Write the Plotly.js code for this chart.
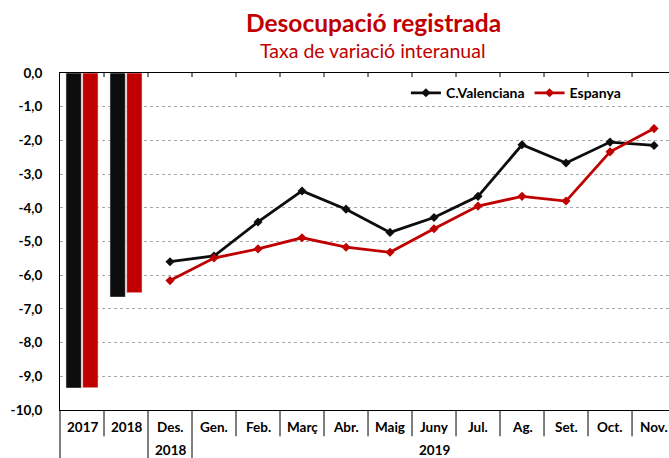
<!DOCTYPE html>
<html>
<head>
<meta charset="utf-8">
<script src="https://cdn.plot.ly/plotly-3.0.1.min.js"></script>
<style>html,body{margin:0;padding:0;background:#fff;}#chart{width:669px;height:458px;}</style>
</head>
<body>
<div id="chart"></div>
<script>
// ---- data ----
var categories = ['2017','2018','Des.','Gen.','Feb.','Març','Abr.','Maig','Juny','Jul.','Ag.','Set.','Oct.','Nov.'];
var yearCats = ['2017','2018'];
var barCV = [-9.35, -6.65];
var barES = [-9.34, -6.52];
var months = ['Des.','Gen.','Feb.','Març','Abr.','Maig','Juny','Jul.','Ag.','Set.','Oct.','Nov.'];
var lineCV = [-5.60, -5.43, -4.42, -3.50, -4.04, -4.73, -4.29, -3.66, -2.13, -2.67, -2.05, -2.15];
var lineES = [-6.16, -5.49, -5.22, -4.89, -5.17, -5.32, -4.62, -3.95, -3.66, -3.80, -2.34, -1.65];
var groupLabels = ['2018', '2019'];
var groupFirst = ['Des.', 'Gen.'];
var groupLast = ['Des.', 'Nov.'];
var yTickVals = [0,-1,-2,-3,-4,-5,-6,-7,-8,-9,-10];
var yTickText = ['0,0','-1,0','-2,0','-3,0','-4,0','-5,0','-6,0','-7,0','-8,0','-9,0','-10,0'];
var seriesNames = ['C.Valenciana', 'Espanya'];
var titleText = 'Desocupació registrada';
var subtitleText = 'Taxa de variació interanual';

// ---- style ----
var BLACK = '#0d0d0d', RED = '#c00000';
var FONT = 'Lato, "Liberation Sans", sans-serif';

var traces = [
  {type:'bar', x:yearCats, y:barCV, name:seriesNames[0], showlegend:false,
   marker:{color:BLACK, line:{color:'#ffffff', width:0.5}}},
  {type:'bar', x:yearCats, y:barES, name:seriesNames[1], showlegend:false,
   marker:{color:RED, line:{color:'#ffffff', width:0.5}}},
  {type:'scatter', mode:'lines+markers', x:months, y:lineCV, name:seriesNames[0],
   line:{color:BLACK, width:2.8}, marker:{symbol:'diamond', size:7, color:BLACK}},
  {type:'scatter', mode:'lines+markers', x:months, y:lineES, name:seriesNames[1],
   line:{color:RED, width:2.8}, marker:{symbol:'diamond', size:7, color:RED}}
];

var annotations = [];
var shapes = [];
// row 1 category labels (positioned by category index)
categories.forEach(function(c, i){
  annotations.push({xref:'x', yref:'paper', x:i, y:-0.049, text:'<b>'+c+'</b>', showarrow:false,
    yanchor:'middle', xanchor:'center', font:{family:FONT, size:13.5, color:'#000'}});
});
// row 2 group labels
groupLabels.forEach(function(g, i){
  var a = categories.indexOf(groupFirst[i]), b = categories.indexOf(groupLast[i]);
  annotations.push({xref:'x', yref:'paper', x:(a+b)/2, y:-0.119, text:'<b>'+g+'</b>', showarrow:false,
    yanchor:'middle', xanchor:'center', font:{family:FONT, size:13.5, color:'#000'}});
});
// titles
annotations.push({xref:'paper', yref:'paper', x:0.514, y:1.150, text:'<b>'+titleText+'</b>', showarrow:false,
  yanchor:'middle', xanchor:'center', font:{family:FONT, size:24.5, color:RED}});
annotations.push({xref:'paper', yref:'paper', x:0.514, y:1.066, text:subtitleText, showarrow:false,
  yanchor:'middle', xanchor:'center', font:{family:FONT, size:19.5, color:RED}});

// label separators
var longBounds = [1.5, 2.5];
for (var k = 0; k < categories.length - 1; k++) {
  var bx = k + 0.5;
  var isLong = longBounds.indexOf(bx) >= 0;
  shapes.push({type:'line', xref:'x', yref:'paper', x0:bx, x1:bx, y0:0, y1:isLong ? -0.16 : -0.078,
    line:{color:'#000', width:1}});
  // small tick marks at top axis
  shapes.push({type:'line', xref:'x', yref:'paper', x0:bx, x1:bx, y0:1, y1:1-4/337,
    line:{color:'#000', width:1}});
}
shapes.push({type:'line', xref:'paper', yref:'paper', x0:0, x1:0, y0:0, y1:-0.16, line:{color:'#000', width:1}});

var layout = {
  width:669, height:458,
  margin:{l:60, r:0, t:73, b:48, pad:0},
  paper_bgcolor:'#fff', plot_bgcolor:'#fff',
  font:{family:FONT, color:'#000'},
  barmode:'group', bargap:0.24, bargroupgap:0.08,
  showlegend:true,
  legend:{orientation:'h', x:0.568, y:0.94, xanchor:'left', yanchor:'middle',
    font:{family:FONT, size:14, color:'#000', weight:'bold'}, bgcolor:'rgba(0,0,0,0)', itemwidth:30, tracegroupgap:0},
  xaxis:{type:'category', categoryorder:'array', categoryarray:categories,
    range:[-0.5, 13.34], showticklabels:false, ticks:'', showgrid:false, zeroline:false,
    showline:true, mirror:true, linecolor:'#000', linewidth:1, fixedrange:true},
  yaxis:{range:[-10, 0], tickvals:yTickVals, ticktext:yTickText, showgrid:true,
    gridcolor:'#a6a6a6', griddash:'dot', gridwidth:1, zeroline:false,
    showline:true, linecolor:'#000', linewidth:1, ticks:'', ticklabelstandoff:14,
    tickfont:{family:FONT, size:13.5, color:'#000', weight:'bold'}, fixedrange:true},
  annotations:annotations,
  shapes:shapes
};

Plotly.newPlot('chart', traces, layout, {staticPlot:true, displayModeBar:false});
</script>
</body>
</html>
